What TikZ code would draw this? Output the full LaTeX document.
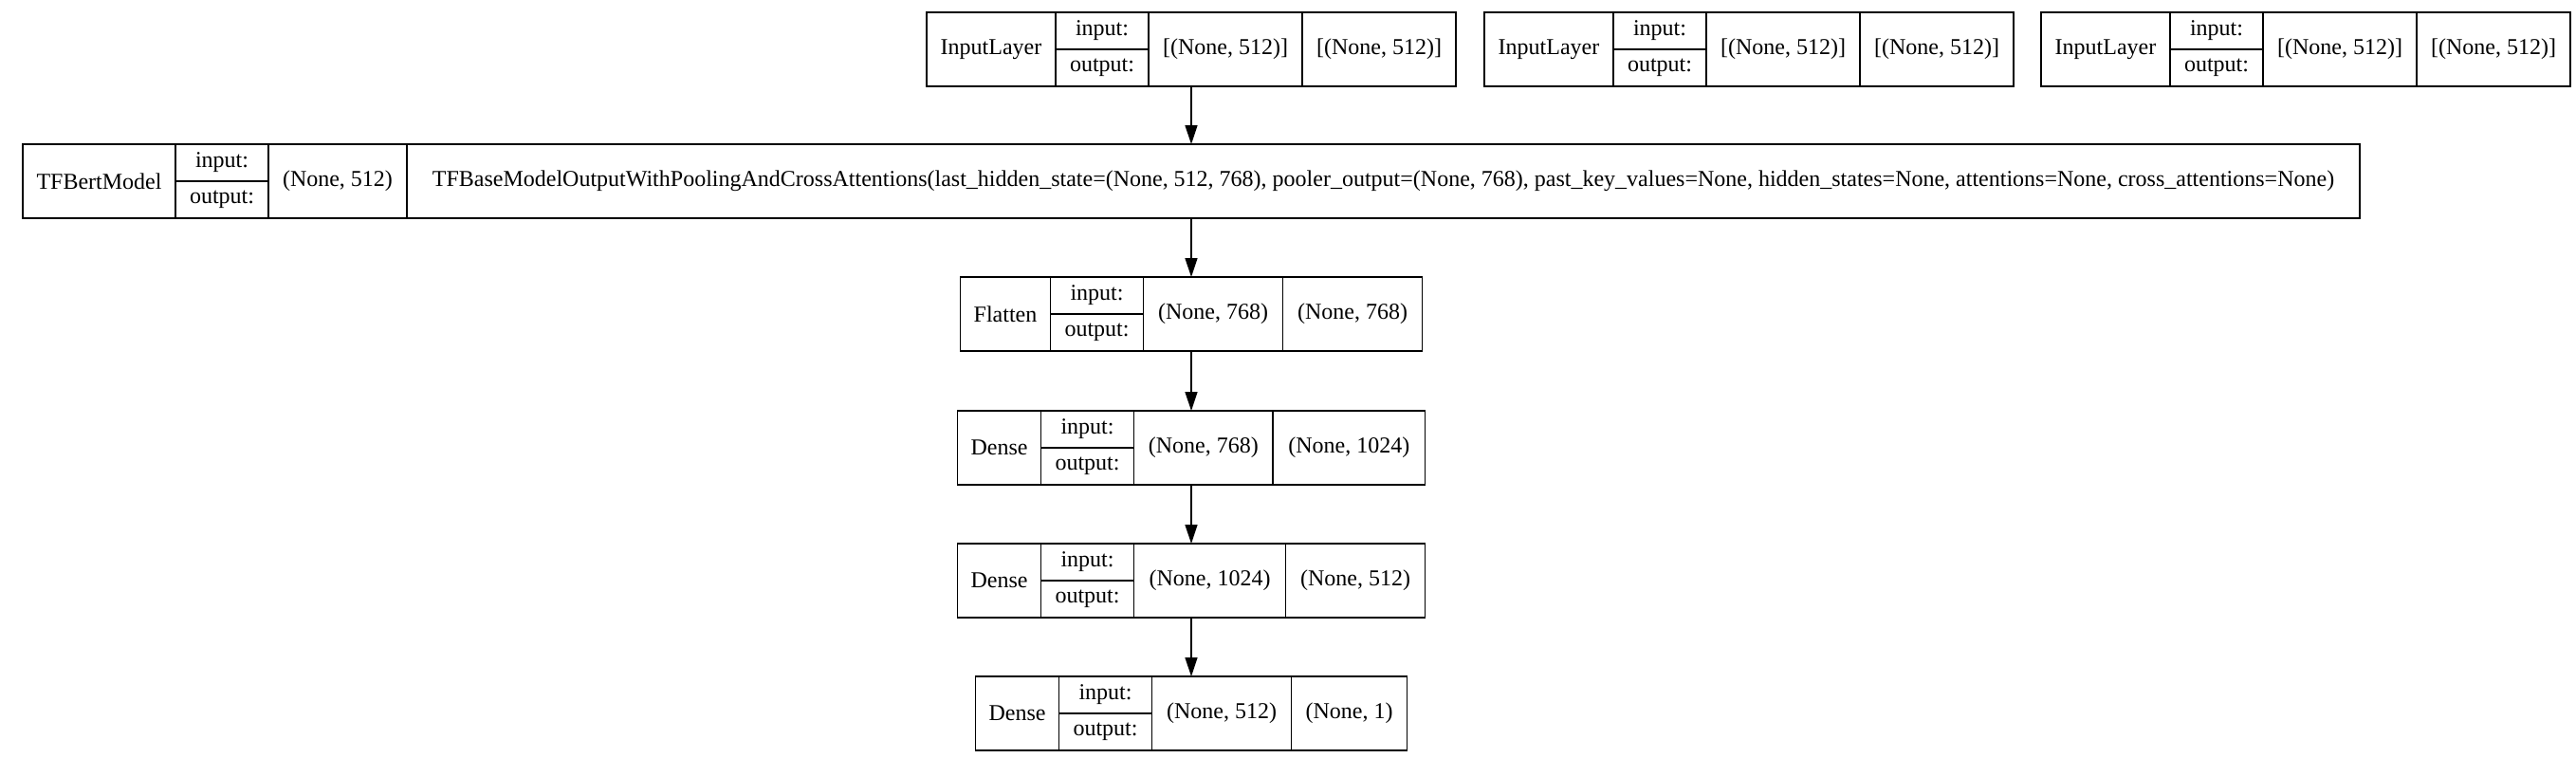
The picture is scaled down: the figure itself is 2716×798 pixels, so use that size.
\documentclass[tikz,border=0pt]{standalone}
\usepackage{fontspec}
\setmainfont{Liberation Serif}
\usetikzlibrary{positioning,fit,arrows.meta}

\begin{document}
\begin{tikzpicture}[
  x = 1pt, y = -1pt,
  cell/.style     = {rectangle, black, draw, line width=1.4pt, minimum height=78pt, text centered, inner sep=0pt, outer sep=0pt, font=\fontsize{24}{28}\selectfont},
  port/.style     = {rectangle, black, draw, line width=1.4pt, minimum height=39pt, minimum width=98pt, text centered, inner sep=0pt, outer sep=0pt, font=\fontsize{24}{28}\selectfont},
  layerbox/.style = {rectangle, inner sep=0pt, outer sep=0pt},
  flow/.style     = {-{Triangle[length=20pt, width=13pt]}, line width=1.6pt},
  ]
  \useasboundingbox (0,0) rectangle (2716,798);
  % input layers
  \node[cell, minimum width=136pt, anchor=north west] (in1name) at (977,13) {InputLayer};
  \node[port, anchor=north west] (in1top) at (in1name.north east) {input:};
  \node[port, below=0pt of in1top] (in1bot) {output:};
  \node[cell, minimum width=162pt, right=98pt of in1name] (in1in) {[(None, 512)]};
  \node[cell, minimum width=162pt, right=0pt of in1in] (in1out) {[(None, 512)]};
  \node[layerbox, fit=(in1name)(in1out)] (in1) {};

  \node[cell, minimum width=136pt, anchor=north west] (in2name) at (1565,13) {InputLayer};
  \node[port, anchor=north west] (in2top) at (in2name.north east) {input:};
  \node[port, below=0pt of in2top] (in2bot) {output:};
  \node[cell, minimum width=162pt, right=98pt of in2name] (in2in) {[(None, 512)]};
  \node[cell, minimum width=162pt, right=0pt of in2in] (in2out) {[(None, 512)]};

  \node[cell, minimum width=136pt, anchor=north west] (in3name) at (2152,13) {InputLayer};
  \node[port, anchor=north west] (in3top) at (in3name.north east) {input:};
  \node[port, below=0pt of in3top] (in3bot) {output:};
  \node[cell, minimum width=162pt, right=98pt of in3name] (in3in) {[(None, 512)]};
  \node[cell, minimum width=162pt, right=0pt of in3in] (in3out) {[(None, 512)]};
  % bert
  \node[cell, minimum width=161pt, anchor=north west] (bertname) at (24,152) {TFBertModel};
  \node[port, anchor=north west] (berttop) at (bertname.north east) {input:};
  \node[port, below=0pt of berttop] (bertbot) {output:};
  \node[cell, minimum width=146pt, right=98pt of bertname] (bertin) {(None, 512)};
  \node[cell, minimum width=2059pt, right=0pt of bertin] (bertout) {TFBaseModelOutputWithPoolingAndCrossAttentions(last\_hidden\_state=(None, 512, 768), pooler\_output=(None, 768), past\_key\_values=None, hidden\_states=None, attentions=None, cross\_attentions=None)};
  \node[layerbox, fit=(bertname)(bertout)] (bert) {};
  % flatten
  \node[cell, minimum width=95pt, anchor=north west] (flatname) at (1012.5,292) {Flatten};
  \node[port, anchor=north west] (flattop) at (flatname.north east) {input:};
  \node[port, below=0pt of flattop] (flatbot) {output:};
  \node[cell, minimum width=147pt, right=98pt of flatname] (flatin) {(None, 768)};
  \node[cell, minimum width=147pt, right=0pt of flatin] (flatout) {(None, 768)};
  \node[layerbox, fit=(flatname)(flatout)] (flat) {};
  % dense layers
  \node[cell, minimum width=88pt, anchor=north west] (d1name) at (1009.5,433) {Dense};
  \node[port, anchor=north west] (d1top) at (d1name.north east) {input:};
  \node[port, below=0pt of d1top] (d1bot) {output:};
  \node[cell, minimum width=146.5pt, right=98pt of d1name] (d1in) {(None, 768)};
  \node[cell, minimum width=160.5pt, right=0pt of d1in] (d1out) {(None, 1024)};
  \node[layerbox, fit=(d1name)(d1out)] (d1) {};

  \node[cell, minimum width=88pt, anchor=north west] (d2name) at (1009.5,573) {Dense};
  \node[port, anchor=north west] (d2top) at (d2name.north east) {input:};
  \node[port, below=0pt of d2top] (d2bot) {output:};
  \node[cell, minimum width=160pt, right=98pt of d2name] (d2in) {(None, 1024)};
  \node[cell, minimum width=147pt, right=0pt of d2in] (d2out) {(None, 512)};
  \node[layerbox, fit=(d2name)(d2out)] (d2) {};

  \node[cell, minimum width=88pt, anchor=north west] (d3name) at (1028.5,713) {Dense};
  \node[port, anchor=north west] (d3top) at (d3name.north east) {input:};
  \node[port, below=0pt of d3top] (d3bot) {output:};
  \node[cell, minimum width=147pt, right=98pt of d3name] (d3in) {(None, 512)};
  \node[cell, minimum width=122pt, right=0pt of d3in] (d3out) {(None, 1)};
  \node[layerbox, fit=(d3name)(d3out)] (d3) {};
  % arrows
  \draw[flow] (in1) -- (bert);
  \draw[flow] (bert) -- (flat);
  \draw[flow] (flat) -- (d1);
  \draw[flow] (d1) -- (d2);
  \draw[flow] (d2) -- (d3);
\end{tikzpicture}
\end{document}
